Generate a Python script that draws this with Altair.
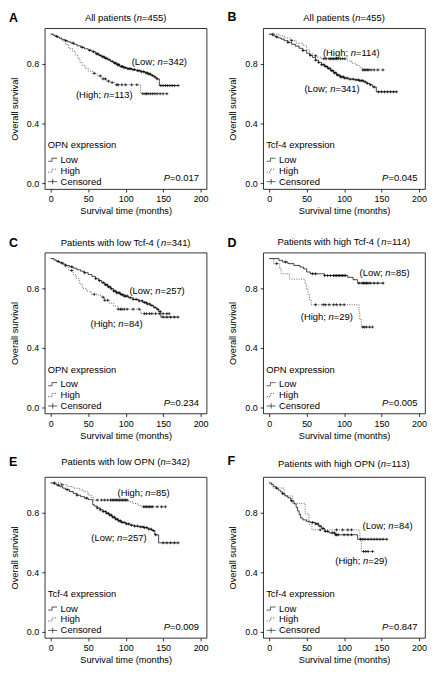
import altair as alt
import pandas as pd
import numpy as np

FONT = "Liberation Sans"
W, H = 163, 162

# ---------------- data ----------------
A_low_t = [0,3,6,9,12,15,19,23,27,31,35,40,45,50,55,60,64,68,72,76,80,84,88,92,97,102,108,114,120,126,130,134,138,141,145,170]
A_low_s = [1.0,.993,.985,.978,.972,.964,.956,.948,.940,.932,.922,.912,.902,.892,.882,.868,.858,.848,.838,.828,.817,.806,.795,.783,.775,.768,.762,.755,.748,.740,.732,.722,.712,.700,.655,.655]
A_low_c = [8,20,30,42,52,57,61,63,66,69,71,73,75,78,82,85,87,89,90,91,94,95,96,98,100,103,105,107,110,112,116,118,121,124,127,129,131,133,136,139,142,147,150,153,156,159,162,165,170]
A_high_t = [0,5,10,15,20,24,29,33,36,39,42,46,50,56,62,68,74,80,86,120,156]
A_high_s = [1.0,.99,.975,.955,.93,.905,.885,.86,.835,.81,.79,.77,.752,.737,.72,.70,.685,.675,.66,.60,.60]
A_high_c = [58,66,70,73,77,82,88,90,95,100,108,115,123,126,128,130,133,136,139,142,146,150,155]

B_low_t = [0,4,8,12,16,20,25,30,35,40,45,50,54,58,62,66,70,74,78,82,86,90,95,100,106,114,120,126,130,134,138,143,170]
B_low_s = [1.0,.99,.982,.975,.967,.957,.945,.932,.92,.905,.89,.872,.858,.843,.825,.81,.795,.783,.77,.755,.74,.725,.713,.705,.698,.693,.688,.68,.67,.66,.645,.613,.613]
B_low_c = [10,25,45,55,62,66,70,73,75,77,79,81,83,85,87,89,91,93,95,97,99,101,104,108,112,116,119,121,123,125,128,131,135,140,146,150,154,158,162,166,170]
B_high_t = [0,13,20,28,36,45,50,54,58,64,69,104,110,116,121,124,152]
B_high_s = [1.0,.99,.975,.958,.94,.925,.895,.87,.855,.845,.835,.82,.805,.79,.775,.76,.76]
B_high_c = [5,30,62,73,76,80,82,84,86,88,90,92,95,98,101,125,127,129,131,133,136,140,145,152]

C_low_t = [0,4,8,12,16,20,25,30,35,40,45,50,55,60,64,68,72,76,80,84,88,93,98,104,110,117,123,128,133,137,141,144,147,170]
C_low_s = [1.0,.99,.98,.972,.963,.954,.945,.935,.925,.915,.905,.893,.88,.865,.852,.838,.824,.81,.797,.782,.77,.758,.748,.737,.726,.716,.705,.695,.685,.672,.66,.645,.607,.607]
C_low_c = [10,20,28,45,60,65,70,73,75,77,79,81,84,86,88,90,92,94,96,98,100,102,106,110,114,118,122,125,127,129,132,135,139,143,146,150,155,160,165,170]
C_high_t = [0,6,12,18,24,30,34,38,42,48,54,62,68,72,78,84,90,120,158]
C_high_s = [1.0,.985,.97,.95,.92,.89,.865,.83,.80,.78,.76,.755,.74,.72,.70,.68,.66,.63,.63]
C_high_c = [15,28,58,70,72,76,90,93,95,98,102,110,118,125,128,132,135,140,145,150,155,158]

D_low_t = [0,13,18,25,33,41,46,50,55,74,105,112,118,153]
D_low_s = [1.0,.988,.977,.966,.954,.943,.931,.91,.898,.886,.874,.858,.835,.835]
D_low_c = [22,58,62,74,78,82,86,88,90,92,94,96,98,100,102,120,124,126,128,130,132,135,140,145,152]
D_high_t = [0,6,14,16,27,48,50,52,54,56,120,121,123,138]
D_high_s = [1.0,.966,.931,.897,.862,.828,.793,.759,.724,.69,.64,.59,.54,.54]
D_high_c = [10,62,72,75,80,86,90,95,100,125,127,130,134,138]

E_low_t = [0,4,8,12,16,20,25,30,35,40,45,50,56,58,62,66,70,74,78,82,86,90,95,100,106,112,118,124,130,135,139,144,170]
E_low_s = [1.0,.993,.985,.975,.965,.955,.943,.93,.918,.908,.898,.888,.855,.845,.832,.82,.808,.796,.784,.77,.757,.745,.735,.725,.716,.71,.705,.70,.69,.68,.652,.598,.598]
E_low_c = [10,22,35,48,62,66,70,73,75,77,79,81,83,85,87,89,91,93,95,98,101,104,108,112,116,120,123,125,128,131,134,137,140,150,155,160,165,170]
E_high_t = [0,14,22,30,38,44,50,54,57,104,110,116,120,153]
E_high_s = [1.0,.988,.976,.965,.953,.941,.918,.902,.885,.874,.862,.852,.84,.84]
E_high_c = [5,15,62,68,72,76,80,82,84,86,88,90,92,94,96,98,100,102,124,126,128,130,132,134,136,142,148,153]

F_low_t = [0,3,6,9,12,15,18,21,25,29,33,36,38,40,42,45,50,55,62,66,70,74,80,88,118,157]
F_low_s = [1.0,.988,.976,.964,.952,.94,.928,.913,.9,.88,.86,.836,.812,.788,.765,.752,.742,.735,.725,.71,.695,.675,.665,.652,.622,.622]
F_low_c = [18,30,58,62,65,68,72,75,78,84,87,89,90,92,100,105,110,122,125,128,132,136,140,144,148,152,157]
F_high_t = [0,5,20,31,48,53,57,121,123,138]
F_high_s = [1.0,.966,.913,.863,.793,.724,.685,.62,.54,.54]
F_high_c = [10,68,90,98,105,110,126,129,132,138]

LETTERS = ["A", "B", "C", "D", "E", "F"]
TITLE_PRE = ["All patients (", "All patients (", "Patients with low Tcf-4 (", "Patients with high Tcf-4 (",
             "Patients with low OPN (", "Patients with high OPN ("]
TITLE_N = ["455", "455", "341", "114", "342", "113"]
LEGEND_TITLES = ["OPN expression", "Tcf-4 expression", "OPN expression", "OPN expression",
                 "Tcf-4 expression", "Tcf-4 expression"]
LOW_N = ["342", "341", "257", "85", "257", "84"]
HIGH_N = ["113", "114", "84", "29", "85", "29"]
P_VALUES = ["0.017", "0.045", "0.234", "0.005", "0.009", "0.847"]
# annotation anchor (centre) in data units: (time, survival)
LOW_ANN = [(145, .813), (84, .631), (142, .785), (154, .902), (91, .63), (158, .711)]
HIGH_ANN = [(72, .592), (110, .873), (88, .561), (77, .605), (124, .935), (123, .479)]
TITLE_Y = [-10.5, -10.5, -10, -10.5, -15, -13]
LETTER_Y = [-10, -11, -10, -9.5, -15, -16]

CURVES = [
    (A_low_t, A_low_s, A_low_c, A_high_t, A_high_s, A_high_c),
    (B_low_t, B_low_s, B_low_c, B_high_t, B_high_s, B_high_c),
    (C_low_t, C_low_s, C_low_c, C_high_t, C_high_s, C_high_c),
    (D_low_t, D_low_s, D_low_c, D_high_t, D_high_s, D_high_c),
    (E_low_t, E_low_s, E_low_c, E_high_t, E_high_s, E_high_c),
    (F_low_t, F_low_s, F_low_c, F_high_t, F_high_s, F_high_c),
]

# ---------------- helpers ----------------
AW = {' ': 278, '(': 333, ')': 333, '=': 584, '.': 278, '-': 333, ';': 278,
      'A': 667, 'P': 667, 'T': 611, 'O': 778, 'N': 722, 'L': 556, 'H': 722,
      'a': 556, 'c': 500, 'e': 556, 'f': 278, 'g': 556, 'h': 556, 'i': 222, 'l': 222,
      'n': 556, 'o': 556, 'p': 556, 's': 500, 't': 278, 'w': 722, 'x': 500, 'r': 333}


def tw(text, size):
    return sum(AW.get(ch, 556) for ch in text) * size / 1000.0


def level(ts, ss, c):
    i = int(np.searchsorted(np.array(ts), c, side="right")) - 1
    return ss[max(i, 0)]


DUMMY = pd.DataFrame({"k": [0]})


def rich(parts, x, y, size, align):
    total = sum(tw(p, size) for p, _ in parts)
    off = {"left": 0.0, "center": -total / 2.0, "right": -total}[align]
    out = []
    for text, ital in parts:
        out.append(
            alt.Chart(DUMMY).mark_text(
                text=text, align="left", baseline="middle", dx=off, font=FONT,
                fontSize=size, fontStyle="italic" if ital else "normal", color="black"
            ).encode(x=x, y=y)
        )
        off += tw(text, size)
    return out


STEP_KEY = "M-1,0.35H-0.15V-0.35H1"
CENS_KEY = "M-1,0H1M0,-0.6V0.6"
CENS_MARK = "M-1,0H1M0,-1V1"
YLAB = ("datum.value < 0.01 || abs(datum.value - 0.4) < 0.01 || abs(datum.value - 0.8) < 0.01"
        " ? format(datum.value, '.1f') : ''")
SYM_EXPR = "datum.value === 'Censored' ? '%s' : '%s'" % (CENS_KEY, STEP_KEY)


def panel(i):
    lt, ls, lc, ht, hs, hc = CURVES[i]
    lines = pd.DataFrame({"t": lt + ht, "s": ls + hs,
                          "grp": ["Low"] * len(lt) + ["High"] * len(ht)})
    cens = pd.DataFrame({"t": lc + hc,
                         "s": [level(lt, ls, c) for c in lc] + [level(ht, hs, c) for c in hc]})
    xsc = alt.Scale(domain=[-8, 208], nice=False, zero=False)
    ysc = alt.Scale(domain=[-0.04, 1.04], nice=False, zero=False)
    legend = alt.Legend(
        title=LEGEND_TITLES[i], orient="bottom-left", offset=3, padding=0,
        titleFont=FONT, titleFontSize=9.5, titleFontWeight="normal", titleColor="black",
        titlePadding=5, labelFont=FONT, labelFontSize=9.5, labelColor="black",
        labelOffset=3, rowPadding=1, symbolSize=80, symbolStrokeWidth=0.8,
        symbolStrokeColor="#222", symbolType=alt.ExprRef(expr=SYM_EXPR),
    )
    line = alt.Chart(lines).mark_line(interpolate="step-after", strokeWidth=0.8).encode(
        x=alt.X("t:Q", scale=xsc,
                axis=alt.Axis(title="Survival time (months)", values=[0, 50, 100, 150, 200])),
        y=alt.Y("s:Q", scale=ysc,
                axis=alt.Axis(title="Overall survival", values=[0, 0.2, 0.4, 0.6, 0.8, 1.0],
                              labelExpr=YLAB)),
        strokeDash=alt.StrokeDash("grp:N",
                                  scale=alt.Scale(domain=["Low", "High", "Censored"],
                                                  range=[[1, 0], [1, 1.4], [1, 0]]),
                                  legend=legend),
        color=alt.Color("grp:N", scale=alt.Scale(domain=["Low", "High"], range=["#000000", "#444444"]),
                        legend=None),
    )
    pts = alt.Chart(cens).mark_point(shape=CENS_MARK, size=9, filled=False, color="black",
                                     strokeWidth=0.7, opacity=1).encode(x="t:Q", y="s:Q")
    texts = []
    texts += rich([(TITLE_PRE[i], False), ("n", True), ("=" + TITLE_N[i] + ")", False)],
                  alt.value(W / 2), alt.value(TITLE_Y[i]), 9.5, "center")
    texts.append(alt.Chart(DUMMY).mark_text(text=LETTERS[i], align="left", baseline="middle",
                                            font=FONT, fontSize=12.5, fontWeight="bold",
                                            color="black").encode(x=alt.value(-36), y=alt.value(LETTER_Y[i])))
    texts += rich([("(Low; ", False), ("n", True), ("=" + LOW_N[i] + ")", False)],
                  alt.datum(LOW_ANN[i][0]), alt.datum(LOW_ANN[i][1]), 9.5, "center")
    texts += rich([("(High; ", False), ("n", True), ("=" + HIGH_N[i] + ")", False)],
                  alt.datum(HIGH_ANN[i][0]), alt.datum(HIGH_ANN[i][1]), 9.5, "center")
    texts += rich([("P", True), ("=" + P_VALUES[i], False)],
                  alt.datum(198), alt.datum(0.032), 9.5, "right")
    return alt.layer(line, pts, *texts).properties(width=W, height=H)


chart = alt.concat(
    *[panel(i) for i in range(6)], columns=2,
    spacing={"row": 64, "column": 57}, bounds="flush", padding=0,
).resolve_scale(strokeDash="independent").resolve_legend(strokeDash="independent").configure(
    background="white"
).configure_view(
    stroke="black", strokeWidth=0.8
).configure_axis(
    domain=False, grid=False, tickColor="black", tickSize=3, tickWidth=0.8,
    labelFont=FONT, labelFontSize=9, labelColor="black",
    titleFont=FONT, titleFontSize=9.3, titleFontWeight="normal", titleColor="black",
).configure_axisX(labelPadding=3, titlePadding=3).configure_axisY(labelPadding=3, titlePadding=7)

chart.save("out.html", embed_options={"renderer": "svg", "actions": False})
